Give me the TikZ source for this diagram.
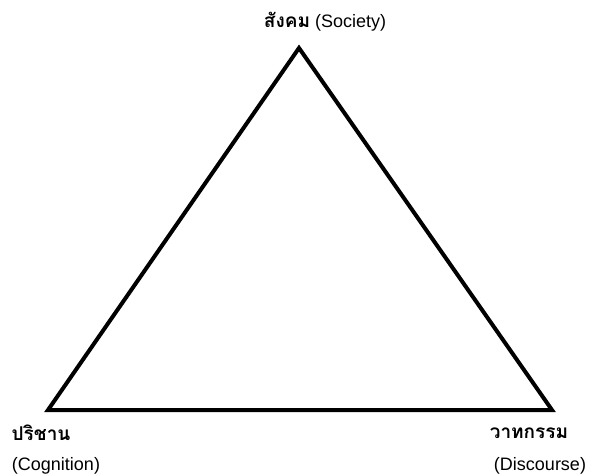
\documentclass[tikz,border=0pt]{standalone}
\usepackage{fontspec}
\setmainfont{Liberation Sans}
\newfontfamily\thaifont[Script=Thai]{Loma}
\usepackage{tikz}
\usetikzlibrary{positioning}

\begin{document}
\begin{tikzpicture}[
  x=1pt, y=-1pt,
  cornerlabel/.style={
    inner sep=0pt, font=\fontsize{18}{20}\selectfont
  },
  thailabel/.style={
    cornerlabel, font=\fontsize{19}{21}\selectfont\thaifont\bfseries
  },
  edge/.style={draw=black, line width=4pt, line join=miter}
]
  \useasboundingbox (0,0) rectangle (592,475);
  \coordinate (soc) at (299, 48);
  \coordinate (cog) at ( 48,410);
  \coordinate (dis) at (552,410);
  \draw[edge] (soc) -- (cog) -- (dis) -- cycle;
  \node[cornerlabel] (socname) at (325, 22)
    {{\fontsize{19}{21}\selectfont\thaifont\bfseries สังคม} (Society)};
  \node[thailabel]   (cogth)   at ( 41,433) {ปริชาน};
  \node[cornerlabel] (cogen)   at ( 56,466) {(Cognition)};
  \node[thailabel]   (disth)   at (529,433) {วาทกรรม};
  \node[cornerlabel] (disen)   at (540,466) {(Discourse)};
\end{tikzpicture}
\end{document}
